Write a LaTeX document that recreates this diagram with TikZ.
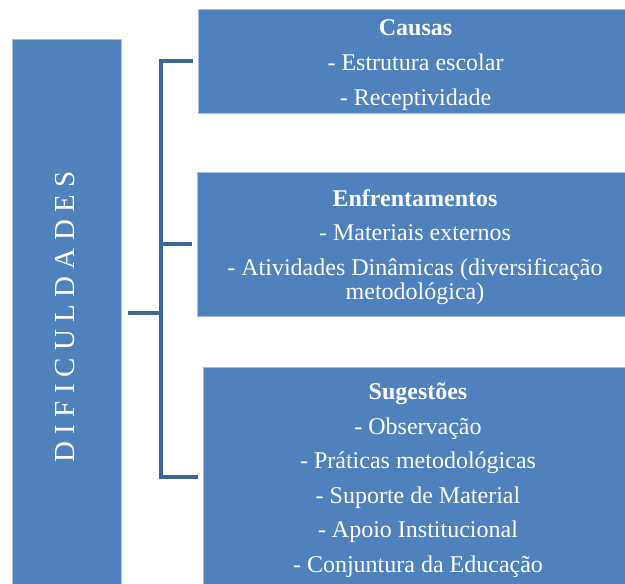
\documentclass[tikz,border=0pt]{standalone}
\usepackage{fontspec}
\setmainfont{Liberation Serif}
\definecolor{caixaazul}{HTML}{4F81BD}
\definecolor{bordaazul}{HTML}{A7BFDE}
\definecolor{ligaazul}{HTML}{3D6796}
\newcommand{\topo}{\rule{0pt}{11.5pt}}

\begin{document}
\begin{tikzpicture}[x=0.5pt,y=-0.5pt,
  caixa/.style={fill=caixaazul,draw=bordaazul,line width=0.5pt,text=white,
    inner sep=0pt,align=center,font=\fontsize{12}{17.3}\selectfont},
  ligacao/.style={draw=ligaazul,line width=2pt}]
  \useasboundingbox (0,0) rectangle (625,583);
  \clip (0,0) rectangle (625,583);
  % caixa da esquerda
  \node[caixa,minimum width=54.5pt,minimum height=273pt] (dif) at (66.5,313) {};
  \node[rotate=90,text=white,font=\fontsize{14.5}{17}\selectfont] (diftexto) at (65.5,317)
    {D I F I C U L D A D E S};
  % caixas da direita
  \node[caixa,minimum width=217.5pt,minimum height=51.5pt] (causas) at (415.5,61.5)
    {\topo\textbf{Causas}\\ - Estrutura escolar\\ - Receptividade};
  \node[caixa,minimum width=218pt,minimum height=72pt] (enfr) at (415,244)
    {\topo\textbf{Enfrentamentos}\\ - Materiais externos\\
     - Atividades Dinâmicas (diversificação\\[-5pt] metodológica)};
  \node[caixa,minimum width=215pt,minimum height=110pt] (sug) at (418,477)
    {\topo\textbf{Sugestões}\\ - Observação\\ - Práticas metodológicas\\
     - Suporte de Material\\ - Apoio Institucional\\ - Conjuntura da Educação};
  % ligacoes
  \coordinate (meio) at (161,313);
  \draw[ligacao] ([xshift=3pt]dif.east) -- (meio);
  \draw[ligacao] (meio) |- ([xshift=-2.5pt]causas.west);
  \draw[ligacao] (meio) |- ([xshift=-2.5pt]enfr.west);
  \draw[ligacao] (meio) |- ([xshift=-2.5pt]sug.west);
\end{tikzpicture}
\end{document}
